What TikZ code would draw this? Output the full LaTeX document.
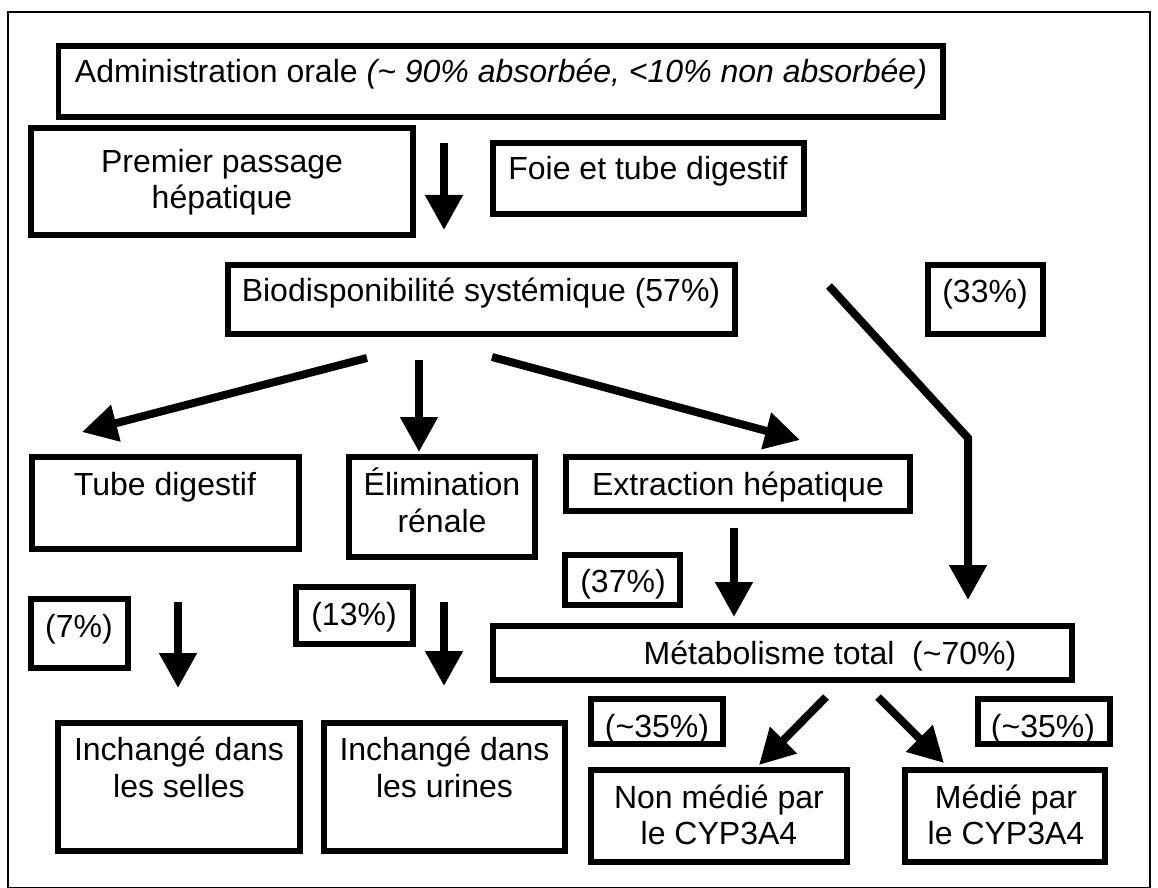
\documentclass[tikz,border=0pt]{standalone}
\usepackage{fontspec}
\setmainfont{Liberation Sans}
\usetikzlibrary{arrows.meta,fit}
\tikzset{
 boxst/.style={draw, line width=2.75pt, inner sep=0pt, outer sep=0pt},
 txt/.style={inner sep=0pt, anchor=base, font=\fontsize{16pt}{18.5pt}\selectfont},
 arr/.style={line width=4pt, -{Triangle[width=18pt,length=17.5pt]}},
 frame/.style={line width=0.75pt},
}
\begin{document}
\begin{tikzpicture}[x=0.5pt,y=-0.5pt]
\useasboundingbox (0,0) rectangle (1158,888);
\draw[frame] (8,12) rectangle (1150,887.6);

% boxes
\node[boxst, fit={(58.5,46) (943,117)}] (admin) {};
\node[boxst, fit={(31,128) (413,235)}] (premier) {};
\node[boxst, fit={(493,143) (804,214)}] (foie) {};
\node[boxst, fit={(228,265) (735,334)}] (bio) {};
\node[boxst, fit={(928,265) (1043,334)}] (p33) {};
\node[boxst, fit={(32,457) (299,549)}] (tube) {};
\node[boxst, fit={(349,457) (535,557)}] (elim) {};
\node[boxst, fit={(566,457) (910,511)}] (extr) {};
\node[boxst, fit={(565,555) (680,605)}] (p37) {};
\node[boxst, fit={(493,626) (1072,680)}] (metab) {};
\node[boxst, fit={(31,599) (128,668)}] (p7) {};
\node[boxst, fit={(296,587) (413,644)}] (p13) {};
\node[boxst, fit={(58,723) (300,851)}] (selles) {};
\node[boxst, fit={(324,723) (565,851)}] (urines) {};
\node[boxst, fit={(591,699) (723,744)}] (p35a) {};
\node[boxst, fit={(978,699) (1110,744)}] (p35b) {};
\node[boxst, fit={(591,770) (847,862)}] (nonmed) {};
\node[boxst, fit={(905,770) (1105,862)}] (medie) {};

% texts
\node[txt] (admin-t) at (501,83) {Administration orale \textit{(\textasciitilde\ 90\% absorbée, <10\% non absorbée)}};
\node[txt] (premier-t1) at (222,173) {Premier passage};
\node[txt] (premier-t2) at (222,209) {hépatique};
\node[txt] (foie-t) at (648,180) {Foie et tube digestif};
\node[txt] (bio-t) at (481,301) {Biodisponibilité systémique (57\%)};
\node[txt] (p33-t) at (985,302) {(33\%)};
\node[txt] (tube-t) at (165,495) {Tube digestif};
\node[txt] (elim-t1) at (442,495) {Élimination};
\node[txt] (elim-t2) at (442,532) {rénale};
\node[txt] (extr-t) at (738,495) {Extraction hépatique};
\node[txt] (p37-t) at (623,592) {(37\%)};
\node[txt] (metab-t) at (830,664) {Métabolisme total\ \ (\textasciitilde70\%)};
\node[txt] (p7-t) at (79,637) {(7\%)};
\node[txt] (p13-t) at (354,625) {(13\%)};
\node[txt] (selles-t1) at (179,760) {Inchangé dans};
\node[txt] (selles-t2) at (179,797) {les selles};
\node[txt] (urines-t1) at (444.5,760) {Inchangé dans};
\node[txt] (urines-t2) at (444.5,797) {les urines};
\node[txt] (p35a-t) at (657,737) {(\textasciitilde35\%)};
\node[txt] (p35b-t) at (1043,737) {(\textasciitilde35\%)};
\node[txt] (nonmed-t1) at (719,808) {Non médié par};
\node[txt] (nonmed-t2) at (719,844) {le CYP3A4};
\node[txt] (medie-t1) at (1006,808) {Médié par};
\node[txt] (medie-t2) at (1006,844) {le CYP3A4};

% arrow end points
\coordinate (a1s) at (444,143);  \coordinate (a1e) at (444,230);
\coordinate (ats) at (367,358);  \coordinate (ate) at (82,432);
\coordinate (aes) at (419,360);  \coordinate (aee) at (419,452);
\coordinate (axs) at (492,357);  \coordinate (axe) at (800,440);
\coordinate (ads) at (829,286);  \coordinate (adm) at (968,438);  \coordinate (ade) at (968,600);
\coordinate (ams) at (734,528);  \coordinate (ame) at (734,617);
\coordinate (a7s) at (178,602);  \coordinate (a7e) at (178,688);
\coordinate (a13s) at (444,602); \coordinate (a13e) at (444,686);
\coordinate (ans) at (826,697);  \coordinate (ane) at (759,765);
\coordinate (aqs) at (878,697);  \coordinate (aqe) at (944,763);

% arrows
\draw[arr] (a1s) -- (a1e);
\draw[arr] (ats) -- (ate);
\draw[arr] (aes) -- (aee);
\draw[arr] (axs) -- (axe);
\draw[arr] (ads) -- (adm) -- (ade);
\draw[arr] (ams) -- (ame);
\draw[arr] (a7s) -- (a7e);
\draw[arr] (a13s) -- (a13e);
\draw[arr] (ans) -- (ane);
\draw[arr] (aqs) -- (aqe);
\end{tikzpicture}
\end{document}
